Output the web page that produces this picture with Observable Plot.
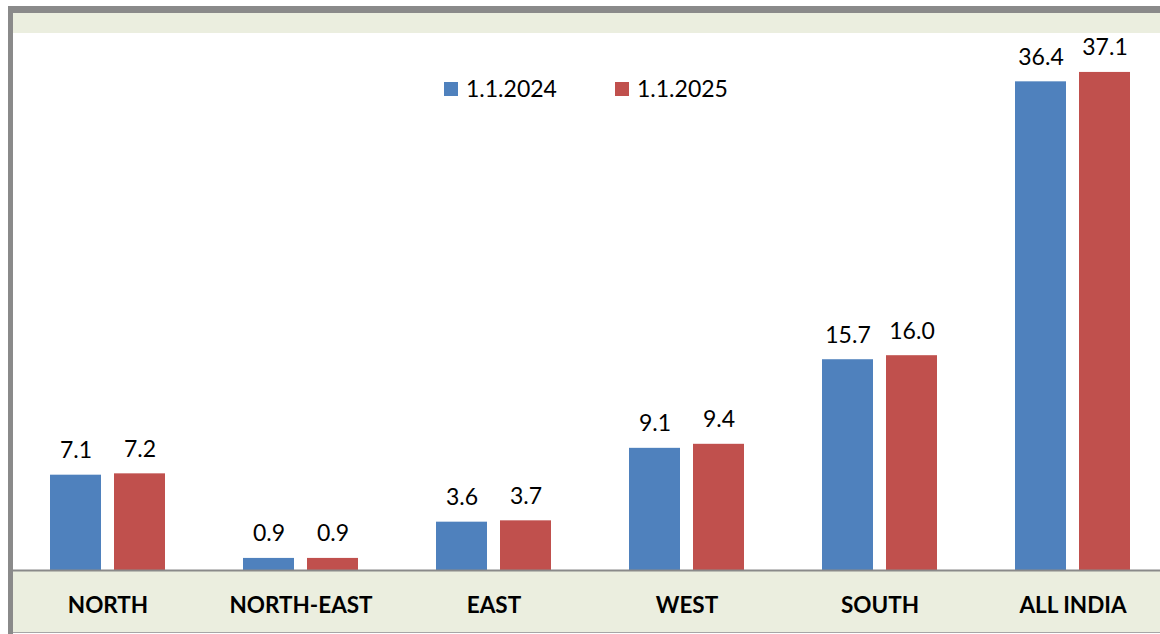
<!DOCTYPE html>
<html>
<head>
<meta charset="utf-8">
<script src="https://cdn.jsdelivr.net/npm/d3@7"></script>
<script src="https://cdn.jsdelivr.net/npm/@observablehq/plot@0.6"></script>
<style>
  html, body { margin: 0; padding: 0; background: #ffffff; }
  body { width: 1160px; height: 634px; overflow: hidden; position: relative; font-family: Lato, "Open Sans", sans-serif; }
  .bg { position: absolute; }
  #chart { position: absolute; left: 0; top: 0; width: 1169px; }
  #chart svg { max-width: none !important; }
  .legend { position: absolute; top: 77px; font-size: 23px; line-height: 23px; color: #000; display: flex; align-items: center; }
  .sw { display: inline-block; width: 14px; height: 14px; margin-right: 8px; }
</style>
</head>
<body>
<div class="bg" style="left:8px;top:6px;width:1160px;height:7px;background:#8a8a8a"></div>
<div class="bg" style="left:8px;top:6px;width:5px;height:628px;background:#8a8a8a"></div>
<div class="bg" style="left:13px;top:13px;width:1150px;height:20px;background:#ebeedf"></div>
<div class="bg" style="left:13px;top:571px;width:1150px;height:61px;background:#ebeedf"></div>
<div class="bg" style="left:13px;top:632px;width:1150px;height:1px;background:#a6a6a6"></div>
<div id="chart"></div>
<div id="legend"></div>
<script>
const regions = ["NORTH", "NORTH-EAST", "EAST", "WEST", "SOUTH", "ALL INDIA"];
const seriesNames = ["1.1.2024", "1.1.2025"];
const values2024 = [7.1, 0.9, 3.6, 9.1, 15.7, 36.4];
const values2025 = [7.2, 0.9, 3.7, 9.4, 16.0, 37.1];
const colors = ["#4f81bd", "#c0504d"];

const data = [];
regions.forEach((r, i) => {
  data.push({region: r, series: seriesNames[0], value: values2024[i]});
  data.push({region: r, series: seriesNames[1], value: values2025[i]});
});

const plot = Plot.plot({
  width: 1169,
  height: 634,
  marginLeft: 11,
  marginRight: 0,
  marginTop: 33,
  marginBottom: 64,
  style: {background: "transparent", fontFamily: "Lato, 'Open Sans', sans-serif", overflow: "visible", maxWidth: "none"},
  facet: {marginTop: 0, marginBottom: 0, marginLeft: 0, marginRight: 0},
  fx: {domain: regions, padding: 0, label: null},
  x: {domain: seriesNames, paddingInner: 0.203, paddingOuter: 0.609, axis: null},
  y: {domain: [0, 40], axis: null},
  color: {domain: seriesNames, range: colors},
  marks: [
    Plot.barY(data, {fx: "region", x: "series", y: "value", fill: "series"}),
    Plot.ruleY([0], {stroke: "#8a8a8a", strokeWidth: 2}),
    Plot.text(data, {fx: "region", x: "series", y: "value", text: d => d.value.toFixed(1), dy: -17, lineAnchor: "bottom", fontSize: 23, fill: "#000"}),
    Plot.axisFx({anchor: "bottom", tickSize: 0, tickPadding: 27, fontSize: 22.5, fontWeight: "bold", fill: "#000", label: null})
  ]
});
document.getElementById("chart").appendChild(plot);

const legendPositions = [444, 615];
const lg = document.getElementById("legend");
seriesNames.forEach((s, i) => {
  const div = document.createElement("div");
  div.className = "legend";
  div.style.left = legendPositions[i] + "px";
  const sw = document.createElement("span");
  sw.className = "sw";
  sw.style.background = colors[i];
  div.appendChild(sw);
  div.appendChild(document.createTextNode(s));
  lg.appendChild(div);
});
</script>
</body>
</html>
